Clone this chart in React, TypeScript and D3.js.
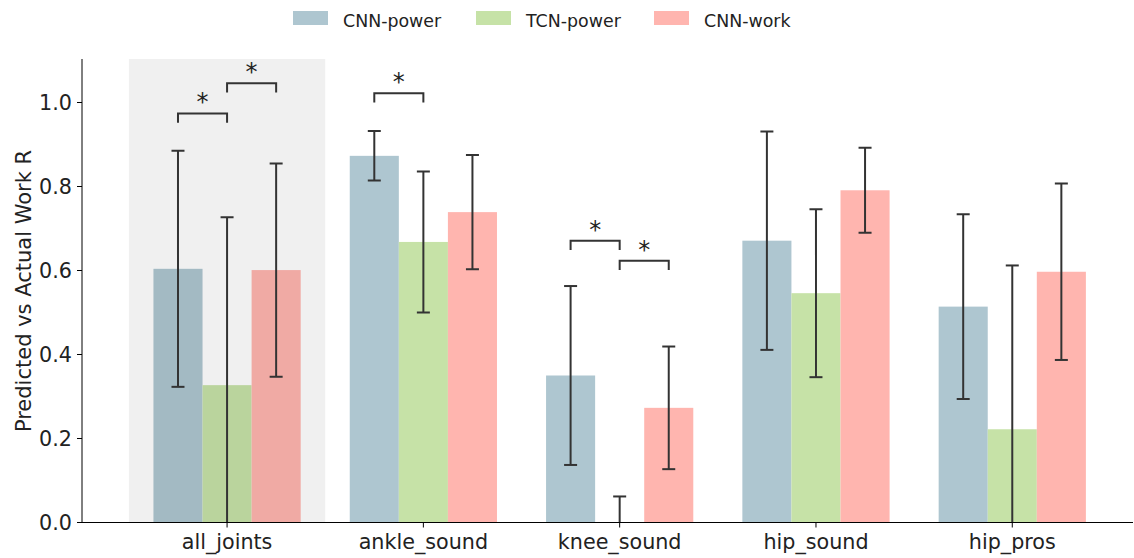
import React from "react";
import * as d3 from "d3";

const categories = ["all_joints", "ankle_sound", "knee_sound", "hip_sound", "hip_pros"];
const seriesNames = ["CNN-power", "TCN-power", "CNN-work"];
const seriesColors = ["#aec6d0", "#c6e2a7", "#ffb5af"];

// mean correlation per category, one array per model
const cnnPowerMean = [0.604, 0.873, 0.35, 0.671, 0.514];
const tcnPowerMean = [0.327, 0.668, -0.06, 0.546, 0.222];
const cnnWorkMean = [0.601, 0.739, 0.273, 0.791, 0.597];

// standard deviations for the error bars
const cnnPowerSd = [0.281, 0.059, 0.213, 0.26, 0.22];
const tcnPowerSd = [0.4, 0.168, 0.122, 0.2, 0.39];
const cnnWorkSd = [0.254, 0.136, 0.146, 0.101, 0.21];

// significance brackets: category index, series pair, bracket height
const bracketCategory = [0, 0, 1, 2, 2];
const bracketFrom = [0, 1, 0, 0, 1];
const bracketTo = [1, 2, 1, 1, 2];
const bracketLevel = [0.974, 1.046, 1.022, 0.671, 0.623];

const yTicks = [0, 0.2, 0.4, 0.6, 0.8, 1.0];

const W = 1134;
const H = 558;
const margin = { left: 82, right: 1133, top: 60.5, bottom: 522.5 };
const FONT = "DejaVu Sans, sans-serif";
const INK = "#333333";

export default function App() {
  const means = [cnnPowerMean, tcnPowerMean, cnnWorkMean];
  const sds = [cnnPowerSd, tcnPowerSd, cnnWorkSd];

  const x = d3.scaleLinear().domain([-0.739, 4.615]).range([margin.left, margin.right]);
  const y = d3.scaleLinear().domain([0, 1.1]).range([margin.bottom, margin.top]);
  const barW = 0.25;
  const xOf = (ci: number, si: number) => ci + (si - 1) * barW;
  const capHalf = 6.5;
  const legLen = 0.022;

  const axTop = y(1.1) - 1.5;

  return (
    <div style={{ position: "fixed", left: 0, top: 0, width: W, height: H, background: "#fff" }}>
      <svg width={W} height={H} style={{ display: "block" }} fontFamily={FONT}>
        <defs>
          <clipPath id="plotClip">
            <rect x={margin.left} y={axTop} width={margin.right - margin.left} height={margin.bottom - axTop} />
          </clipPath>
        </defs>

        {/* legend */}
        <g>
          {seriesNames.map((name, i) => {
            const lx = [293, 476, 654][i];
            return (
              <g key={name}>
                <rect x={lx} y={11} width={35} height={14} fill={seriesColors[i]} />
                <text x={lx + 50} y={26.5} fontSize={17.4} fill="#222">
                  {name}
                </text>
              </g>
            );
          })}
        </g>

        <g clipPath="url(#plotClip)">
          {/* bars */}
          {means.map((vals, si) =>
            vals.map((v, ci) => {
              const x0 = x(xOf(ci, si) - barW / 2);
              const x1 = x(xOf(ci, si) + barW / 2);
              const y0 = y(Math.max(0, v));
              const y1 = y(Math.min(0, v));
              return (
                <rect
                  key={`b${si}-${ci}`}
                  x={x0}
                  y={y0}
                  width={x1 - x0}
                  height={y1 - y0}
                  fill={seriesColors[si]}
                />
              );
            })
          )}

          {/* shaded region for the pooled category */}
          <rect
            x={x(-0.5)}
            y={axTop}
            width={x(0.5) - x(-0.5)}
            height={margin.bottom - axTop}
            fill="#000"
            fillOpacity={0.058}
          />

          {/* error bars */}
          {means.map((vals, si) =>
            vals.map((v, ci) => {
              const cx = x(xOf(ci, si));
              const hi = y(v + sds[si][ci]);
              const lo = y(v - sds[si][ci]);
              return (
                <g key={`e${si}-${ci}`} stroke={INK} strokeWidth={2}>
                  <line x1={cx} x2={cx} y1={hi} y2={lo} />
                  <line x1={cx - capHalf} x2={cx + capHalf} y1={hi} y2={hi} />
                  <line x1={cx - capHalf} x2={cx + capHalf} y1={lo} y2={lo} />
                </g>
              );
            })
          )}
        </g>

        {/* significance brackets */}
        {bracketLevel.map((lvl, i) => {
          const ci = bracketCategory[i];
          const xa = x(xOf(ci, bracketFrom[i]));
          const xb = x(xOf(ci, bracketTo[i]));
          const yt = y(lvl);
          const yl = y(lvl - legLen);
          return (
            <g key={`s${i}`}>
              <path
                d={`M${xa},${yl}V${yt}H${xb}V${yl}`}
                fill="none"
                stroke={INK}
                strokeWidth={2}
              />
              <text x={(xa + xb) / 2} y={yt - 3} fontSize={24} textAnchor="middle" fill="#222">
                *
              </text>
            </g>
          );
        })}

        {/* axes */}
        <g>
          <line x1={margin.left} x2={margin.left} y1={axTop} y2={margin.bottom} stroke="#000" strokeWidth={1} />
          <line x1={margin.left} x2={margin.right} y1={margin.bottom} y2={margin.bottom} stroke="#000" strokeWidth={1} />
          {yTicks.map((t) => (
            <g key={`yt${t}`}>
              <line x1={margin.left - 5} x2={margin.left} y1={y(t)} y2={y(t)} stroke="#000" />
              <text x={margin.left - 10} y={y(t)} dy="0.36em" textAnchor="end" fontSize={20.7} fill="#222">
                {t.toFixed(1)}
              </text>
            </g>
          ))}
          {categories.map((c, ci) => (
            <g key={c}>
              <line x1={x(ci)} x2={x(ci)} y1={margin.bottom} y2={margin.bottom + 5} stroke="#000" />
              <text x={x(ci)} y={margin.bottom + 26.5} textAnchor="middle" fontSize={20.7} fill="#222">
                {c}
              </text>
            </g>
          ))}
          <text
            transform={`translate(31,291) rotate(-90)`}
            textAnchor="middle"
            fontSize={21}
            fill="#222"
          >
            Predicted vs Actual Work R
          </text>
        </g>
      </svg>
    </div>
  );
}
